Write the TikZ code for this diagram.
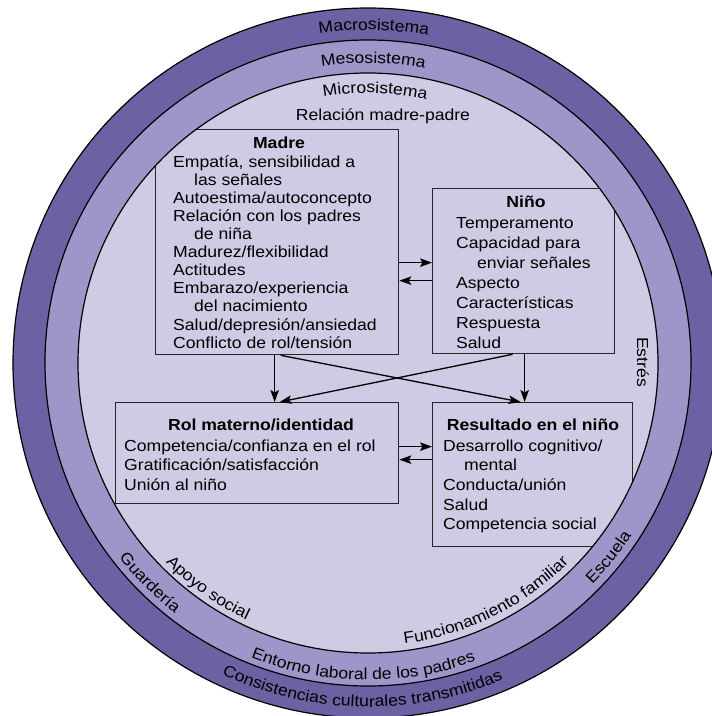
\documentclass[tikz,border=0pt]{standalone}
\usepackage{fontspec}
\setmainfont{Liberation Sans}[FakeStretch=1.1]
\usetikzlibrary{arrows.meta,decorations.text}

\definecolor{macro}{RGB}{106,98,162}
\definecolor{meso}{RGB}{157,151,201}
\definecolor{micro}{RGB}{206,203,228}
\newcommand\ringfont{\fontsize{16}{18}\selectfont}

\tikzset{
  ring/.style={draw=black, line width=1.2pt},
  box/.style={draw=black!85, line width=1.3pt, fill=micro, anchor=north west, inner sep=0pt},
  arr/.style={line width=1.3pt, -{Stealth[length=12pt,width=8.5pt,inset=2.5pt]}},
  lbl/.style={font=\ringfont, inner sep=0pt},
  boxtitle/.style={font=\fontsize{16}{18}\selectfont\bfseries, inner sep=0pt, anchor=base},
  items/.style={align=left, inner sep=0pt, anchor=north west},
  arctext/.style={decorate, decoration={text along path, text align=center, text={|\ringfont|#1}}},
}

\begin{document}
\begin{tikzpicture}[x=1pt,y=-1pt]
\useasboundingbox (0,0) rectangle (712,716);
\clip (0,0) rectangle (712,716);
\fill[white] (0,0) rectangle (712,716);

% nested systems
\coordinate (c) at (368,363);
\filldraw[ring, fill=macro] (c) circle[radius=355];
\filldraw[ring, fill=meso]  (c) circle[radius=323];
\fill[micro] (c) circle[radius=290];

% boxes, cut off by the microsystem border
\begin{scope}
  \clip (c) circle[radius=290];
  \node[box, minimum width=243pt, minimum height=225pt] (madre) at (155,129) {};
  \node[box, minimum width=182pt, minimum height=165pt] (nino)  at (432,188) {};
  \node[box, minimum width=283pt, minimum height=101pt] (rol)   at (115,402) {};
  \node[box, minimum width=200pt, minimum height=144pt] (res)   at (432,402) {};
\end{scope}
\draw[ring] (c) circle[radius=290];

% labels along the rings (top)
\path[arctext=Macrosistema] (c) ++(-124:333) arc[start angle=-124, end angle=-54, radius=333];
\path[arctext=Mesosistema]  (c) ++(-124:300) arc[start angle=-124, end angle=-54, radius=300];
\path[arctext=Microsistema] (c) ++(-123.5:270) arc[start angle=-123.5, end angle=-53.5, radius=270];

% labels along the rings (bottom)
\path[arctext=Consistencias culturales transmitidas] (c) ++(131:344) arc[start angle=131, end angle=51, radius=344];
\path[arctext=Entorno laboral de los padres] (c) ++(130.9:317) arc[start angle=130.9, end angle=50.9, radius=317];
\path[arctext=Guardería] (c) ++(154.8:316) arc[start angle=154.8, end angle=114.8, radius=316];
\path[arctext=Escuela] (c) ++(58.9:315) arc[start angle=58.9, end angle=18.9, radius=315];
\path[arctext=Apoyo social] (c) ++(150.4:284) arc[start angle=150.4, end angle=100.4, radius=284];
\path[arctext=Funcionamiento familiar] (c) ++(93.7:283) arc[start angle=93.7, end angle=33.7, radius=283];

\node[lbl, anchor=base] (rel) at (383,120) {Relación madre-padre};
\node[lbl, rotate=-90] (estres) at (643,362) {Estrés};

% box contents
\node[boxtitle] (madret) at (279,148) {Madre};
\node[items, font=\fontsize{16}{18.1}\selectfont] (madrei) at (173,154.3) {\strut Empatía, sensibilidad a\\
  \hspace*{21pt}las señales\\
  Autoestima/autoconcepto\\
  Relación con los padres\\
  \hspace*{21pt}de niña\\
  Madurez/flexibilidad\\
  Actitudes\\
  Embarazo/experiencia\\
  \hspace*{21pt}del nacimiento\\
  Salud/depresión/ansiedad\\
  Conflicto de rol/tensión};

\node[boxtitle] (ninot) at (526,207) {Niño};
\node[items, font=\fontsize{16}{20}\selectfont] (ninoi) at (456,214) {\strut Temperamento\\
  Capacidad para\\
  \hspace*{21pt}enviar señales\\
  Aspecto\\
  Características\\
  Respuesta\\
  Salud};

\node[boxtitle] (rolt) at (261,430) {Rol materno/identidad};
\node[items, font=\fontsize{16}{19.5}\selectfont] (roli) at (124,437.35) {\strut Competencia/confianza en el rol\\
  Gratificación/satisfacción\\
  Unión al niño};

\node[boxtitle] (rest) at (533,430) {Resultado en el niño};
\node[items, font=\fontsize{16}{19.6}\selectfont] (resi) at (443,437.3) {\strut Desarrollo cognitivo/\\
  \hspace*{21pt}mental\\
  Conducta/unión\\
  Salud\\
  Competencia social};

% influences
\draw[arr] ([yshift=-20.5pt]madre.east) -- ([yshift=8.5pt]nino.west);
\draw[arr] ([yshift=-9.5pt]nino.west) -- ([yshift=-38.5pt]madre.east);
\draw[arr] ([yshift=6.5pt]rol.east) -- ([yshift=28pt]res.west);
\draw[arr] ([yshift=15pt]res.west) -- ([yshift=-6.5pt]rol.east);
\draw[arr] ([xshift=-2.5pt]madre.south) -- ([xshift=17.5pt]rol.north);
\draw[arr] ([xshift=1pt]nino.south) -- ([xshift=-8pt]res.north);
\draw[arr] ([xshift=3.5pt]madre.south) -- ([xshift=-12pt]res.north);
\draw[arr] ([xshift=-11pt]nino.south) -- ([xshift=22.5pt]rol.north);
\end{tikzpicture}
\end{document}
